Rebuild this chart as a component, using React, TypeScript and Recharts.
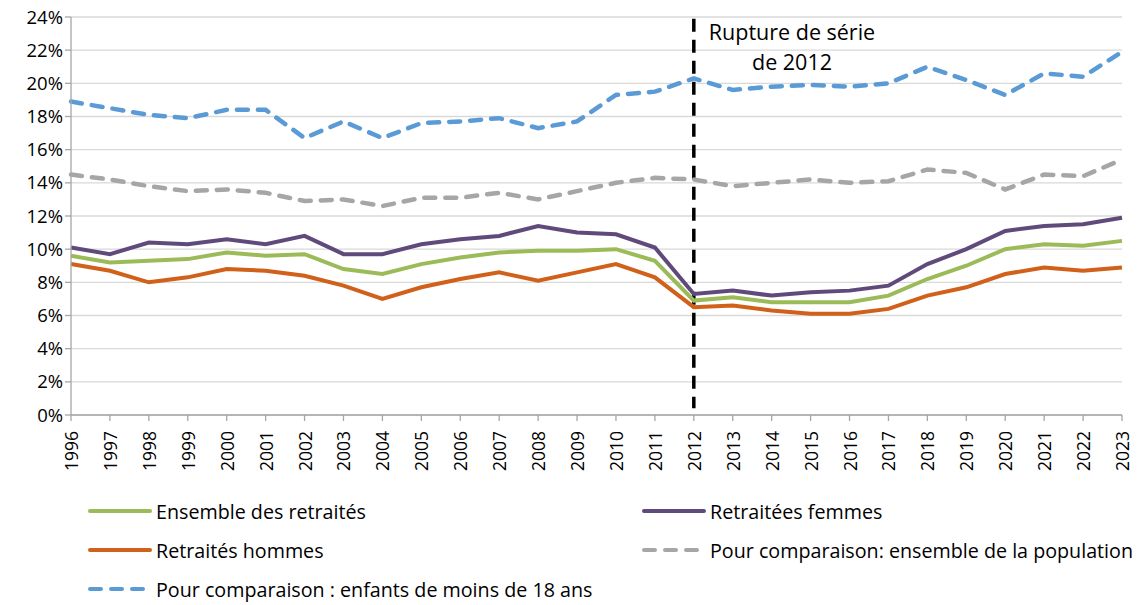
import { LineChart, Line, XAxis, YAxis, CartesianGrid, ReferenceLine } from 'recharts';

const years = ['1996', '1997', '1998', '1999', '2000', '2001', '2002', '2003', '2004', '2005', '2006', '2007', '2008', '2009',
    '2010', '2011', '2012', '2013', '2014', '2015', '2016', '2017', '2018', '2019', '2020', '2021', '2022', '2023'];

const ensembleRetraites = [9.6, 9.2, 9.3, 9.4, 9.8, 9.6, 9.7, 8.8, 8.5, 9.1, 9.5, 9.8, 9.9, 9.9,
    10.0, 9.3, 6.9, 7.1, 6.8, 6.8, 6.8, 7.2, 8.2, 9.0, 10.0, 10.3, 10.2, 10.5];
const retraiteesFemmes = [10.1, 9.7, 10.4, 10.3, 10.6, 10.3, 10.8, 9.7, 9.7, 10.3, 10.6, 10.8, 11.4, 11.0,
    10.9, 10.1, 7.3, 7.5, 7.2, 7.4, 7.5, 7.8, 9.1, 10.0, 11.1, 11.4, 11.5, 11.9];
const retraitesHommes = [9.1, 8.7, 8.0, 8.3, 8.8, 8.7, 8.4, 7.8, 7.0, 7.7, 8.2, 8.6, 8.1, 8.6,
    9.1, 8.3, 6.5, 6.6, 6.3, 6.1, 6.1, 6.4, 7.2, 7.7, 8.5, 8.9, 8.7, 8.9];
const population = [14.5, 14.2, 13.8, 13.5, 13.6, 13.4, 12.9, 13.0, 12.6, 13.1, 13.1, 13.4, 13.0, 13.5,
    14.0, 14.3, 14.2, 13.8, 14.0, 14.2, 14.0, 14.1, 14.8, 14.6, 13.6, 14.5, 14.4, 15.4];
const enfants = [18.9, 18.5, 18.1, 17.9, 18.4, 18.4, 16.7, 17.7, 16.7, 17.6, 17.7, 17.9, 17.3, 17.7,
    19.3, 19.5, 20.3, 19.6, 19.8, 19.9, 19.8, 20.0, 21.0, 20.2, 19.3, 20.6, 20.4, 21.9];

const yTicks = [0, 2, 4, 6, 8, 10, 12, 14, 16, 18, 20, 22, 24];

// the series break line does not quite reach the axes
const ruptureYear = '2012';
const ruptureSpan = [23.9, 0.4];

const data = years.map((year, i) => ({
    year,
    ensemble: ensembleRetraites[i],
    femmes: retraiteesFemmes[i],
    hommes: retraitesHommes[i],
    population: population[i],
    enfants: enfants[i],
}));

const FONT = '"Open Sans", sans-serif';

const legendItems = [
    { name: 'Ensemble des retraités', color: '#9BBB59', dash: false },
    { name: 'Retraitées femmes', color: '#604A7B', dash: false },
    { name: 'Retraités hommes', color: '#D0601A', dash: false },
    { name: 'Pour comparaison: ensemble de la population', color: '#A6A6A6', dash: true },
    { name: 'Pour comparaison : enfants de moins de 18 ans', color: '#5B9BD5', dash: true },
];

const YearTick = ({ x, y, payload }: any) => (
    <text
        x={x}
        y={y + 8}
        transform={`rotate(-90 ${x} ${y + 8})`}
        textAnchor="end"
        dominantBaseline="central"
        fontSize={17.5}
        fontFamily={FONT}
        fill="#000"
    >
        {payload.value}
    </text>
);

const CustomLegend = () => (
    <div style={{ position: 'absolute', left: 0, top: 498, width: 1144, height: 110, fontFamily: FONT, fontSize: 19.7, color: '#000' }}>
        {legendItems.map((item, i) => {
            const col = i % 2;
            const row = Math.floor(i / 2);
            const left = col === 0 ? 88 : 642;
            const top = row * 39;
            return (
                <div key={item.name} style={{ position: 'absolute', left, top, display: 'flex', alignItems: 'center', whiteSpace: 'nowrap', height: 26 }}>
                    <svg width={64} height={10}>
                        <line x1={2} y1={5} x2={62} y2={5} stroke={item.color} strokeWidth={4}
                            strokeLinecap="round" strokeDasharray={item.dash ? '11 10' : undefined} />
                    </svg>
                    <span style={{ marginLeft: 4 }}>{item.name}</span>
                </div>
            );
        })}
    </div>
);

export default function App() {
    return (
        <div style={{ position: 'absolute', left: 0, top: 0, width: 1144, height: 605, background: '#fff' }}>
            <LineChart width={1144} height={605} data={data} margin={{ top: 17, right: 22, left: 0, bottom: 130 }}>
                <CartesianGrid vertical={false} stroke="#D9D9D9" strokeWidth={1.3} />
                <XAxis
                    dataKey="year"
                    interval={0}
                    height={60}
                    tick={<YearTick />}
                    tickSize={6}
                    axisLine={{ stroke: '#A6A6A6', strokeWidth: 1.3 }}
                    tickLine={{ stroke: '#A6A6A6', strokeWidth: 1.3 }}
                />
                <YAxis
                    width={71}
                    domain={[0, 24]}
                    ticks={yTicks}
                    interval={0}
                    tickFormatter={(v) => `${v}%`}
                    tick={{ fontSize: 18.5, fill: '#000', fontFamily: FONT }}
                    tickSize={6}
                    axisLine={{ stroke: '#A6A6A6', strokeWidth: 1.3 }}
                    tickLine={{ stroke: '#A6A6A6', strokeWidth: 1.3 }}
                />
                <ReferenceLine
                    segment={[{ x: ruptureYear, y: ruptureSpan[0] }, { x: ruptureYear, y: ruptureSpan[1] }]}
                    stroke="#000" strokeWidth={3.5} strokeDasharray="13 8"
                />
                <Line dataKey="enfants" stroke="#5B9BD5" strokeWidth={4.5} strokeDasharray="11 10" strokeLinecap="round" dot={false} isAnimationActive={false} />
                <Line dataKey="population" stroke="#A6A6A6" strokeWidth={4.5} strokeDasharray="11 10" strokeLinecap="round" dot={false} isAnimationActive={false} />
                <Line dataKey="femmes" stroke="#604A7B" strokeWidth={4} dot={false} isAnimationActive={false} />
                <Line dataKey="ensemble" stroke="#9BBB59" strokeWidth={4} dot={false} isAnimationActive={false} />
                <Line dataKey="hommes" stroke="#D0601A" strokeWidth={4} dot={false} isAnimationActive={false} />
            </LineChart>
            <CustomLegend />
            <div style={{
                position: 'absolute', left: 702, top: 17, width: 180, textAlign: 'center',
                fontFamily: FONT, fontSize: 21.5, lineHeight: '30px', color: '#000',
            }}>
                Rupture de série<br />de 2012
            </div>
        </div>
    );
}
